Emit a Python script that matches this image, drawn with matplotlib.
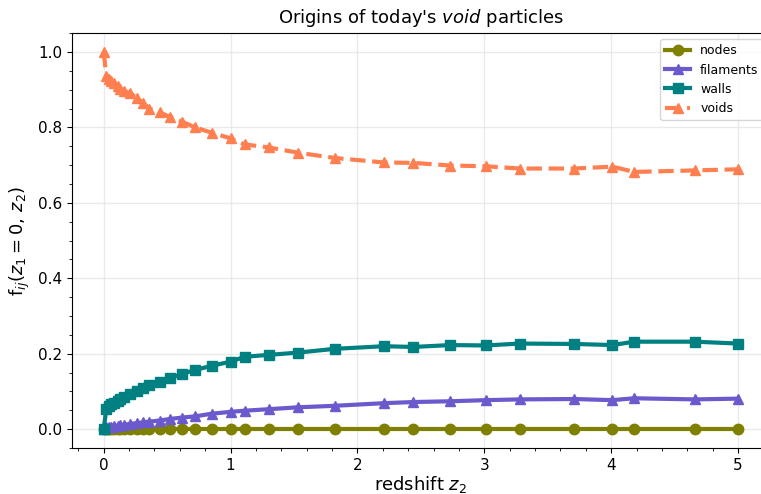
import numpy as np
from matplotlib import pyplot as plt

# redshift snapshots and fractions
z2 = [0.0, 0.02, 0.04, 0.06, 0.08, 0.11, 0.13, 0.16, 0.21, 0.26, 0.31, 0.36,
      0.44, 0.52, 0.62, 0.72, 0.85, 1.0, 1.11, 1.3, 1.53, 1.82, 2.21, 2.44,
      2.73, 3.01, 3.28, 3.71, 4.01, 4.18, 4.66, 5.0]

nodes = [0.0] * len(z2)

filaments = [0.0, 0.005, 0.006, 0.007, 0.008, 0.009, 0.010, 0.012, 0.014, 0.016,
             0.018, 0.020, 0.023, 0.027, 0.031, 0.034, 0.041, 0.046, 0.049, 0.053,
             0.058, 0.062, 0.069, 0.072, 0.074, 0.077, 0.079, 0.080, 0.077, 0.082,
             0.079, 0.081]

walls = [0.0, 0.053, 0.062, 0.066, 0.070, 0.075, 0.080, 0.085, 0.092, 0.100,
         0.110, 0.118, 0.125, 0.135, 0.147, 0.157, 0.168, 0.179, 0.192, 0.197,
         0.203, 0.213, 0.220, 0.218, 0.223, 0.222, 0.227, 0.226, 0.223, 0.232,
         0.232, 0.227]

voids = [1.0, 0.937, 0.929, 0.923, 0.918, 0.910, 0.903, 0.897, 0.890, 0.879,
         0.865, 0.850, 0.840, 0.828, 0.815, 0.800, 0.786, 0.771, 0.755, 0.747,
         0.733, 0.719, 0.707, 0.706, 0.699, 0.697, 0.691, 0.691, 0.696, 0.682,
         0.686, 0.689]

fig = plt.figure(figsize=(7.61, 4.94), dpi=100)
ax = fig.add_axes([0.0946, 0.093, 0.917, 0.84])

ax.plot(z2, nodes, color='olive', marker='o', lw=3, ms=7.5, label='nodes')
ax.plot(z2, filaments, color='slateblue', marker='^', lw=3, ms=7.5, label='filaments')
ax.plot(z2, walls, color='teal', marker='s', lw=3, ms=7.5, label='walls')
ax.plot(z2, voids, color='coral', marker='^', lw=3, ms=7.5, ls='--', label='voids')

ax.set_xlim(-0.25, 5.25)
ax.set_ylim(-0.05, 1.05)
ax.minorticks_on()
ax.grid(True, which='major', color='#dddddd', alpha=0.6, lw=1)
ax.tick_params(labelsize=11)

ax.set_xlabel(r'redshift $z_2$', fontsize=13, labelpad=1)
ax.set_ylabel(r'f$_{ij}(z_1=0,\,z_2)$', fontsize=13)
ax.set_title(r"Origins of today's $\it{void}$ particles", fontsize=13, pad=7)
ax.legend(loc='upper right', fontsize=9)

fig.savefig('out.png', dpi=100)
